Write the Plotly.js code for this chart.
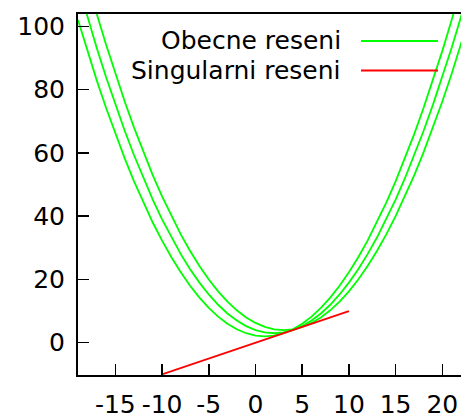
<!DOCTYPE html>
<html>
<head>
<meta charset="utf-8">
<script src="https://cdn.plot.ly/plotly-3.0.1.min.js"></script>
<style>
  html, body { margin: 0; padding: 0; background: #fff; }
  #chart { width: 461px; height: 419px; }
</style>
</head>
<body>
<div id="chart"></div>
<script>
// Sample abscissae shared by the three general solutions
const xSamples = [-19, -18, -17, -16, -15, -14, -13, -12, -11, -10, -9, -8, -7, -6, -5, -4, -3, -2, -1,
  0, 1, 2, 3, 4, 5, 6, 7, 8, 9, 10, 11, 12, 13, 14, 15, 16, 17, 18, 19, 20, 21, 22, 23];

// General solutions (obecne reseni), three members of the family
const general1 = [102, 92.25, 83, 74.25, 66, 58.25, 51, 44.25, 38, 32.25, 27, 22.25, 18, 14.25, 11, 8.25, 6, 4.25, 3,
  2.25, 2, 2.25, 3, 4.25, 6, 8.25, 11, 14.25, 18, 22.25, 27, 32.25, 38, 44.25, 51, 58.25, 66, 74.25, 83, 92.25, 102, 112.25, 123];
const general2 = [113.25, 103, 93.25, 84, 75.25, 67, 59.25, 52, 45.25, 39, 33.25, 28, 23.25, 19, 15.25, 12, 9.25, 7, 5.25,
  4, 3.25, 3, 3.25, 4, 5.25, 7, 9.25, 12, 15.25, 19, 23.25, 28, 33.25, 39, 45.25, 52, 59.25, 67, 75.25, 84, 93.25, 103, 113.25];
const general3 = [125, 114.25, 104, 94.25, 85, 76.25, 68, 60.25, 53, 46.25, 40, 34.25, 29, 24.25, 20, 16.25, 13, 10.25, 8,
  6.25, 5, 4.25, 4, 4.25, 5, 6.25, 8, 10.25, 13, 16.25, 20, 24.25, 29, 34.25, 40, 46.25, 53, 60.25, 68, 76.25, 85, 94.25, 104];

// Singular solution (singularni reseni): straight line segment
const singularX = [-10, 10];
const singularY = [-10, 10];

// Axis ticks
const xTicks = [-15, -10, -5, 0, 5, 10, 15, 20];
const yTicks = [0, 20, 40, 60, 80, 100];

// Legend labels
const legendLabels = ['Obecne reseni', 'Singularni reseni'];

const GREEN = '#00ff00';
const RED = '#ff0000';
const FONT = { family: 'DejaVu Sans, sans-serif', size: 25, color: '#000' };

const greenLine = { color: GREEN, width: 1.8 };
const traces = [general1, general2, general3].map(ys => ({
  x: xSamples, y: ys, type: 'scatter', mode: 'lines', line: greenLine,
  hoverinfo: 'skip', showlegend: false
}));
traces.push({
  x: singularX, y: singularY, type: 'scatter', mode: 'lines',
  line: { color: RED, width: 1.8 }, hoverinfo: 'skip', showlegend: false
});

const W = 461, H = 419;

const layout = {
  width: W, height: H,
  margin: { l: 78, r: 0, t: 14, b: 44 },
  paper_bgcolor: '#fff', plot_bgcolor: '#fff',
  font: FONT,
  xaxis: {
    range: [-19, 22], tickvals: xTicks, ticktext: xTicks.map(String),
    ticks: 'inside', ticklen: 11, tickwidth: 1.5, tickcolor: '#000',
    showline: true, linecolor: '#000', linewidth: 2, mirror: true,
    showgrid: false, zeroline: false, tickfont: FONT, ticklabelstandoff: 6
  },
  yaxis: {
    range: [-10.2, 103.9], tickvals: yTicks, ticktext: yTicks.map(String),
    ticks: 'inside', ticklen: 11, tickwidth: 1.5, tickcolor: '#000',
    showline: true, linecolor: '#000', linewidth: 2, mirror: false,
    showgrid: false, zeroline: false, tickfont: FONT, ticklabelstandoff: 6
  },
  showlegend: false,
  annotations: [],
  shapes: []
};

// Legend in gnuplot style: label on the left, line sample on the right.
// Pixel positions inside the figure are converted to paper coordinates.
const plotW = W - layout.margin.l - layout.margin.r;
const plotH = H - layout.margin.t - layout.margin.b;
const px = x => (x - layout.margin.l) / plotW;
const py = y => (H - layout.margin.b - y) / plotH;
const rowsY = [41, 70.5];
const legendColors = [GREEN, RED];

legendLabels.forEach((t, i) => {
  layout.annotations.push({
    xref: 'paper', yref: 'paper', x: px(343), y: py(rowsY[i]), text: t,
    showarrow: false, font: FONT, xanchor: 'right', yanchor: 'middle'
  });
  layout.shapes.push({
    type: 'line', xref: 'paper', yref: 'paper',
    x0: px(361), x1: px(438), y0: py(rowsY[i]), y1: py(rowsY[i]),
    line: { color: legendColors[i], width: 1.8 }
  });
});

Plotly.newPlot('chart', traces, layout, { staticPlot: true, displayModeBar: false });
</script>
</body>
</html>
